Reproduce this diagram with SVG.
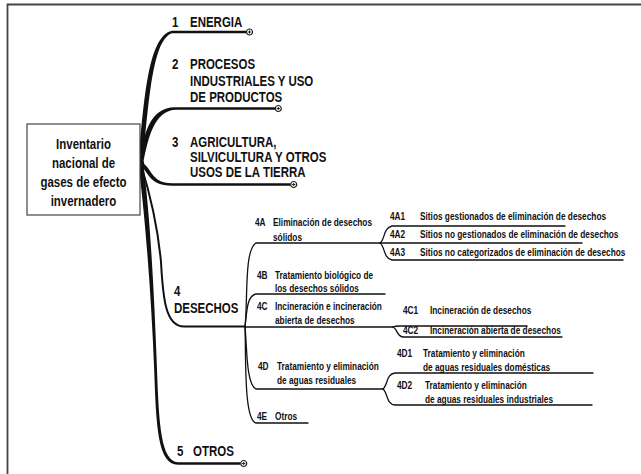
<svg xmlns="http://www.w3.org/2000/svg" width="641" height="474" viewBox="0 0 641 474">
<style>
.t{font-family:"Liberation Sans",Arial,sans-serif;font-weight:bold;fill:#111}
.m{font-size:14px}
.bx{font-size:14px;text-anchor:middle}
.s{font-size:10.5px}
.ln{fill:none;stroke:#111;stroke-width:1.3;stroke-linecap:round}
.tr{fill:#111;stroke:none}
</style>
<defs>
<g id="plus"><circle cx="0" cy="0" r="3" fill="#fff" stroke="#222" stroke-width="1.2"/><path d="M-1.6,0H1.6M0,-1.6V1.6" stroke="#222" stroke-width="1"/></g>
</defs>
<rect width="641" height="474" fill="#fff"/>
<path d="M7.5,474V4.5H641" fill="none" stroke="#444" stroke-width="1.8"/>

<g id="connectors">
<path class="tr" d="M137.8,163 C143.8,114 145.8,36 172,30.8 H246.5 V33.2 H172 C150.5,40 148.5,116 142.2,163 Z"/>
<path class="tr" d="M138.8,163 C143.8,134 149.8,107.3 175,107.3 H275.2 V109.7 H175 C154.5,111.5 148.5,136 143.2,163 Z"/>
<path class="tr" d="M140,161.5 C152,166 150,183.3 172,183.3 H290.5 V185.7 H172 C148,185.7 148,170 140,165.5 Z"/>
<path class="tr" d="M138.5,165 C145.5,220 151.5,300 154.2,370 C156.2,426 157.5,464.7 178,464.7 H240.3 V462.3 H178 C161,461 159,425 157,370 C154.5,300 150.5,220 143.5,165 Z"/>
<path d="M141,165 C152,200 158,230 161,262 C163,300 166,326.5 184,326.5 H245" fill="none" stroke="#111" stroke-width="2"/>
<ellipse cx="141" cy="164" rx="3.2" ry="4" fill="#111"/>
<path class="ln" d="M245,327 C248,300 244,250 256,243 H380"/>
<path class="ln" d="M245,327 C247,310 247,296 256,294 H385"/>
<path class="ln" d="M245,327 H393"/>
<path class="ln" d="M245,327 C247,345 246,385 256,389 H383"/>
<path class="ln" d="M245,327 C246,360 244,420 256,423 H308"/>
<path class="ln" d="M380,243 C385,240 383,228 392,226 H565"/>
<path class="ln" d="M380,243 H582"/>
<path class="ln" d="M380,243 C385,246 383,258 392,260 H623"/>
<path class="ln" d="M393,327 C395,326 396,326 400,326 H527"/>
<path class="ln" d="M393,327 C398,329 396,336 403,337 H562"/>
<path class="ln" d="M383,389 C388,385 386,374 395,373 H593"/>
<path class="ln" d="M383,389 C388,393 386,404 395,405 H592"/>
</g>

<g id="root">
<rect x="27" y="124" width="113" height="91" fill="#fff" stroke="#444" stroke-width="1.2"/>
<text class="t bx" transform="translate(83.5,149) scale(0.82,1)">Inventario</text>
<text class="t bx" transform="translate(83.5,168) scale(0.82,1)">nacional de</text>
<text class="t bx" transform="translate(83.5,187) scale(0.82,1)">gases de efecto</text>
<text class="t bx" transform="translate(83.5,206) scale(0.82,1)">invernadero</text>
</g>

<g id="n1">
<text class="t m" transform="translate(172,27) scale(0.82,1)">1</text>
<text class="t m" transform="translate(190,27) scale(0.82,1)">ENERGIA</text>
<use href="#plus" x="249.5" y="32"/>
</g>
<g id="n2">
<text class="t m" transform="translate(172,68.5) scale(0.82,1)">2</text>
<text class="t m" transform="translate(190,68.5) scale(0.82,1)">PROCESOS</text>
<text class="t m" transform="translate(190,86) scale(0.82,1)">INDUSTRIALES Y USO</text>
<text class="t m" transform="translate(190,102) scale(0.82,1)">DE PRODUCTOS</text>
<use href="#plus" x="278.3" y="108.5"/>
</g>
<g id="n3">
<text class="t m" transform="translate(172,147.3) scale(0.82,1)">3</text>
<text class="t m" transform="translate(190,147.3) scale(0.82,1)">AGRICULTURA,</text>
<text class="t m" transform="translate(190,162.3) scale(0.82,1)">SILVICULTURA Y OTROS</text>
<text class="t m" transform="translate(190,177.3) scale(0.82,1)">USOS DE LA TIERRA</text>
<use href="#plus" x="293.7" y="184.5"/>
</g>
<g id="n4">
<text class="t m" transform="translate(174,296) scale(0.82,1)">4</text>
<text class="t m" transform="translate(174,313.3) scale(0.82,1)">DESECHOS</text>
</g>
<g id="n5">
<text class="t m" transform="translate(177,456) scale(0.82,1)">5</text>
<text class="t m" transform="translate(193,456) scale(0.82,1)">OTROS</text>
<use href="#plus" x="243.7" y="463.5"/>
</g>

<g id="n4A">
<text class="t s" transform="translate(255,225.5) scale(0.79,1)">4A</text>
<text class="t s" transform="translate(273,225.5) scale(0.79,1)">Eliminación de desechos</text>
<text class="t s" transform="translate(273,241) scale(0.79,1)">sólidos</text>
</g>
<g id="n4A1">
<text class="t s" transform="translate(390,219.5) scale(0.79,1)">4A1</text>
<text class="t s" transform="translate(420,219.5) scale(0.79,1)">Sitios gestionados de eliminación de desechos</text>
</g>
<g id="n4A2">
<text class="t s" transform="translate(390,238.3) scale(0.79,1)">4A2</text>
<text class="t s" transform="translate(420,238.3) scale(0.79,1)">Sitios no gestionados de eliminación de desechos</text>
</g>
<g id="n4A3">
<text class="t s" transform="translate(390,255.7) scale(0.79,1)">4A3</text>
<text class="t s" transform="translate(420,255.7) scale(0.79,1)">Sitios no categorizados de eliminación de desechos</text>
</g>
<g id="n4B">
<text class="t s" transform="translate(257,279) scale(0.79,1)">4B</text>
<text class="t s" transform="translate(275,279) scale(0.79,1)">Tratamiento biológico de</text>
<text class="t s" transform="translate(275,291.5) scale(0.79,1)">los desechos sólidos</text>
</g>
<g id="n4C">
<text class="t s" transform="translate(257,310) scale(0.79,1)">4C</text>
<text class="t s" transform="translate(275,310) scale(0.79,1)">Incineración e incineración</text>
<text class="t s" transform="translate(275,324) scale(0.79,1)">abierta de desechos</text>
</g>
<g id="n4C1">
<text class="t s" transform="translate(403,314) scale(0.79,1)">4C1</text>
<text class="t s" transform="translate(430,314) scale(0.79,1)">Incineración de desechos</text>
</g>
<g id="n4C2">
<text class="t s" transform="translate(403,334) scale(0.79,1)">4C2</text>
<text class="t s" transform="translate(430,334) scale(0.79,1)">Incineración abierta de desechos</text>
</g>
<g id="n4D">
<text class="t s" transform="translate(258,370) scale(0.79,1)">4D</text>
<text class="t s" transform="translate(277,370) scale(0.79,1)">Tratamiento y eliminación</text>
<text class="t s" transform="translate(277,384) scale(0.79,1)">de aguas residuales</text>
</g>
<g id="n4D1">
<text class="t s" transform="translate(397,357.3) scale(0.79,1)">4D1</text>
<text class="t s" transform="translate(423,357.3) scale(0.79,1)">Tratamiento y eliminación</text>
<text class="t s" transform="translate(423,371) scale(0.79,1)">de aguas residuales domésticas</text>
</g>
<g id="n4D2">
<text class="t s" transform="translate(397,389) scale(0.79,1)">4D2</text>
<text class="t s" transform="translate(425,389) scale(0.79,1)">Tratamiento y eliminación</text>
<text class="t s" transform="translate(425,403.3) scale(0.79,1)">de aguas residuales industriales</text>
</g>
<g id="n4E">
<text class="t s" transform="translate(257,420) scale(0.79,1)">4E</text>
<text class="t s" transform="translate(275,420) scale(0.79,1)">Otros</text>
</g>
</svg>
